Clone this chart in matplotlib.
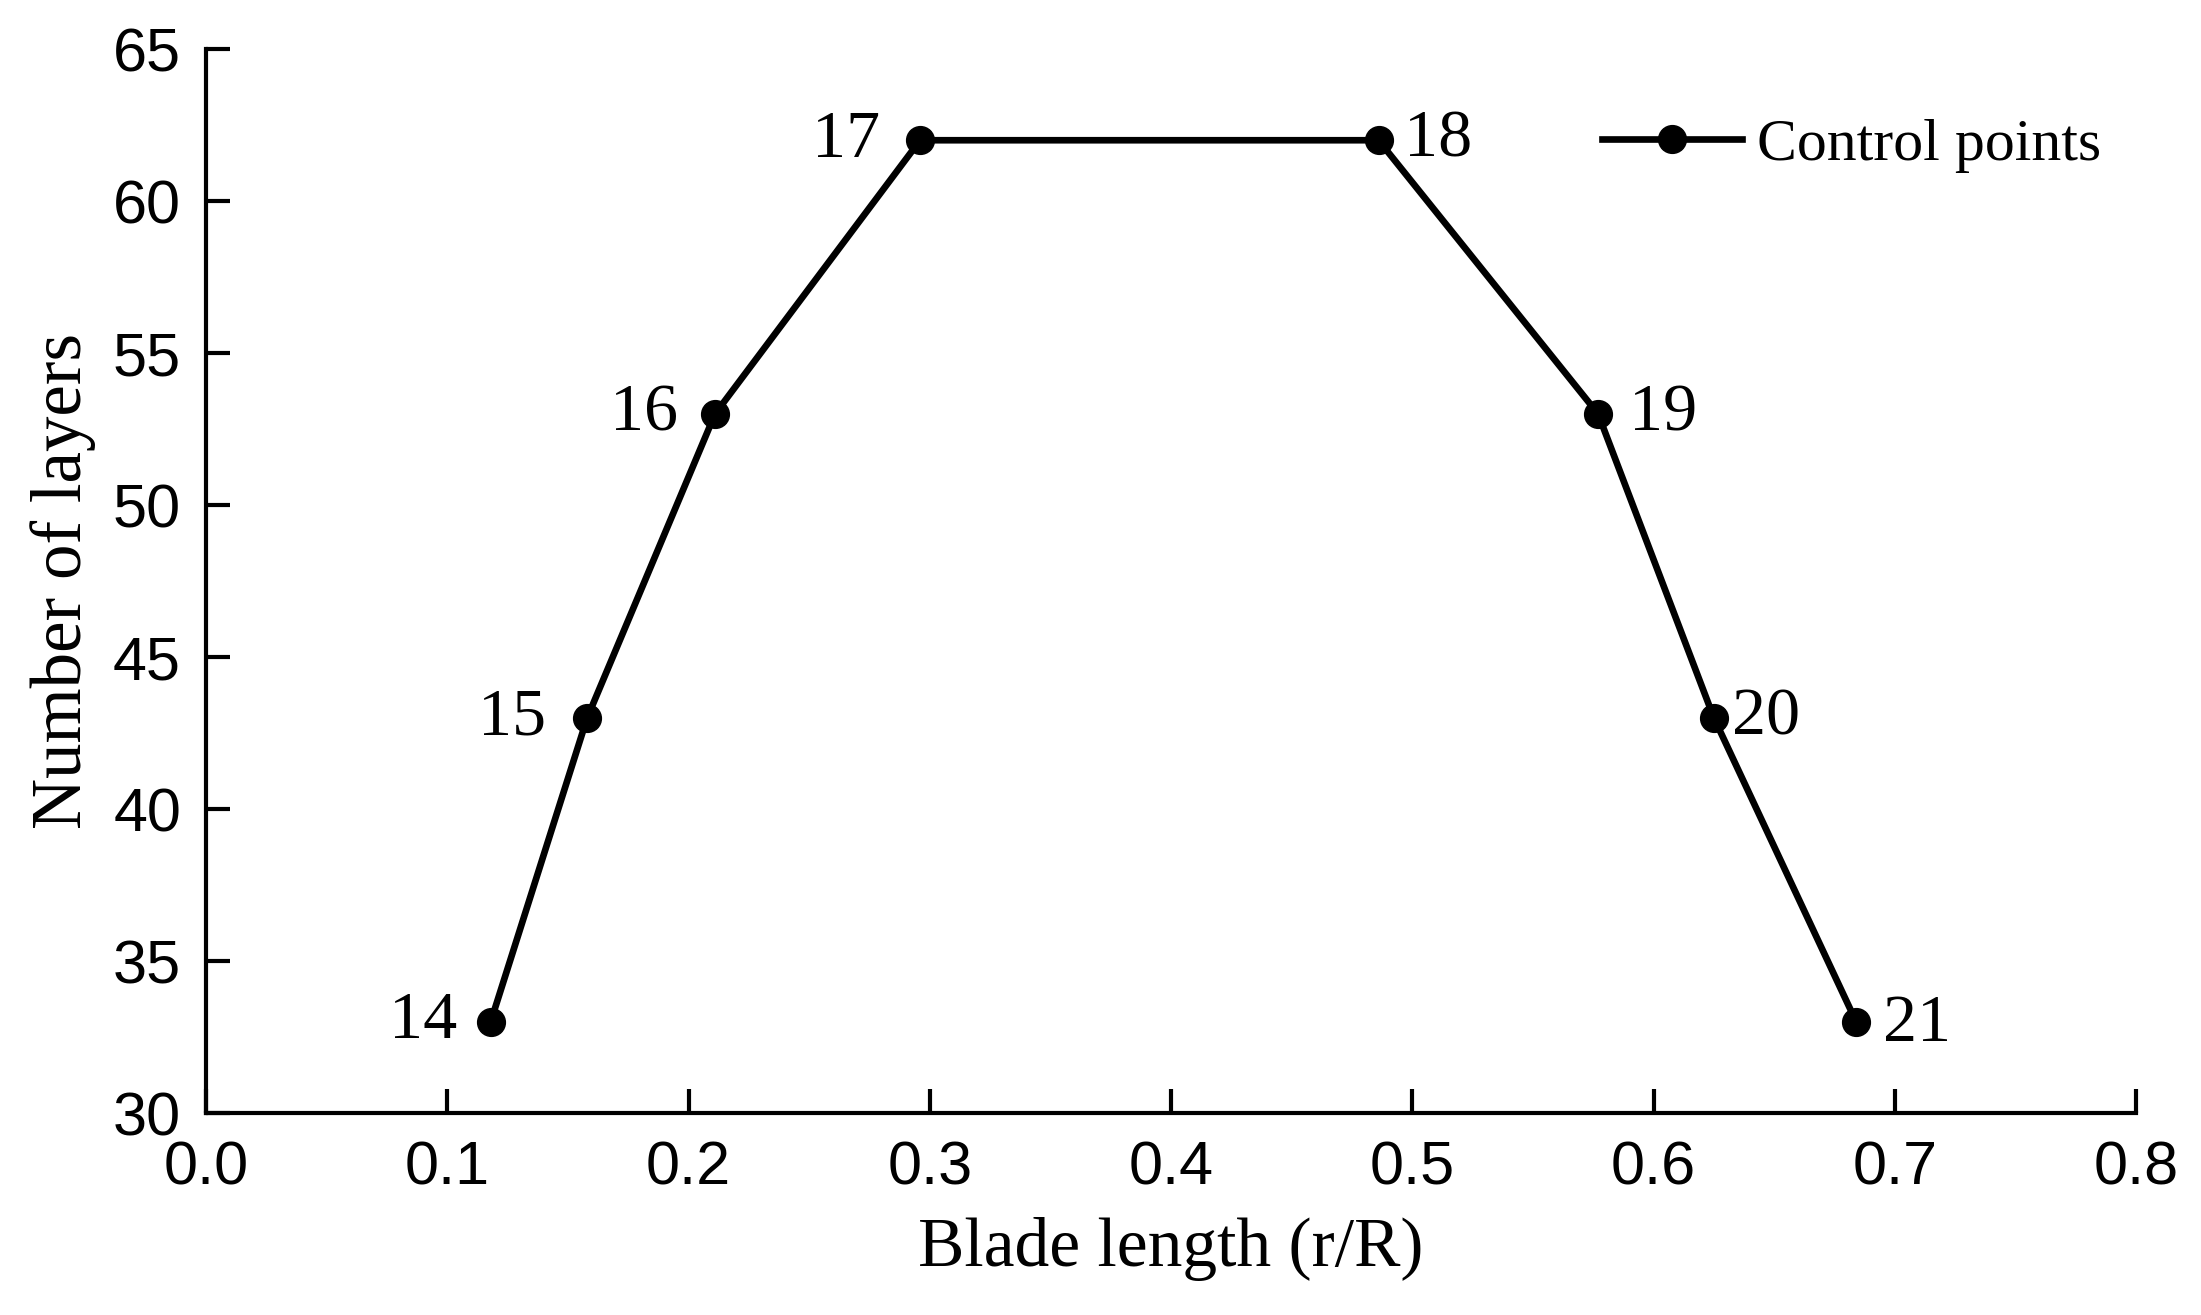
import matplotlib
matplotlib.use("Agg")
import matplotlib.pyplot as plt

# data
blade_length = [0.118, 0.158, 0.211, 0.296, 0.486, 0.577, 0.625, 0.684]
n_layers = [33, 43, 53, 62, 62, 53, 43, 33]
point_ids = ["14", "15", "16", "17", "18", "19", "20", "21"]

x_ticks = [0.0, 0.1, 0.2, 0.3, 0.4, 0.5, 0.6, 0.7, 0.8]
y_ticks = [30, 35, 40, 45, 50, 55, 60, 65]

# label offsets in points (dx, dy)
label_offsets = [(-24, 0), (-30, 0), (-27, 0), (-29, 0), (18, 0), (22, 0), (13, 0), (19, -2)]

serif = ["Liberation Serif", "DejaVu Serif"]
sans = ["Liberation Sans", "DejaVu Sans"]

fig = plt.figure(figsize=(22.01, 13.15), dpi=100)
ax = fig.add_axes([0.0936, 0.1536, 0.8769, 0.8091])

ax.plot(blade_length, n_layers, color="black", lw=4.8, marker="o",
        markersize=20, label="Control points")

for x, y, t, (dx, dy) in zip(blade_length, n_layers, point_ids, label_offsets):
    ha = "right" if dx < 0 else "left"
    ax.annotate(t, (x, y), xytext=(dx, dy), textcoords="offset points",
                ha=ha, va="center", fontsize=49, family=serif)

ax.set_xlim(0.0, 0.8)
ax.set_ylim(30, 65)
ax.set_xticks(x_ticks)
ax.set_yticks(y_ticks)
ax.set_xticklabels([f"{v:.1f}" for v in x_ticks], family=sans, fontsize=44)
ax.set_yticklabels([str(v) for v in y_ticks], family=sans, fontsize=44)
ax.tick_params(direction="in", length=17, width=3)
ax.tick_params(axis="x", pad=20)
ax.tick_params(axis="y", pad=18)

for s in ["top", "right"]:
    ax.spines[s].set_visible(False)
for s in ["left", "bottom"]:
    ax.spines[s].set_linewidth(3)

ax.set_xlabel("Blade length (r/R)", family=serif, fontsize=50, labelpad=14)
ax.set_ylabel("Number of layers", family=serif, fontsize=51, labelpad=12)

leg = ax.legend(loc="center right", bbox_to_anchor=(0.982, 0.909), frameon=False,
                prop={"family": serif, "size": 43}, handlelength=2.35,
                handletextpad=0.25, borderaxespad=0, borderpad=0)

fig.savefig("out.png", dpi=100)
